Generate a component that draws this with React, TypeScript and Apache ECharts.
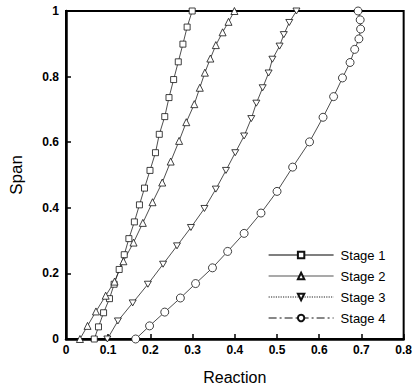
import React, { useEffect, useRef } from "react";
import * as echarts from "echarts";

const seriesNames = ["Stage 1", "Stage 2", "Stage 3", "Stage 4"];

const stage1X = [0.067, 0.077, 0.089, 0.103, 0.114, 0.126, 0.138, 0.149, 0.162, 0.174, 0.186, 0.199, 0.212, 0.221, 0.234, 0.244, 0.255, 0.266, 0.277, 0.287, 0.299];
const stage1Y = [0, 0.037, 0.08, 0.123, 0.167, 0.212, 0.257, 0.306, 0.357, 0.409, 0.46, 0.514, 0.568, 0.624, 0.678, 0.736, 0.791, 0.845, 0.899, 0.951, 1.0];

const stage2X = [0.033, 0.051, 0.071, 0.094, 0.115, 0.136, 0.16, 0.182, 0.205, 0.228, 0.248, 0.268, 0.285, 0.304, 0.317, 0.329, 0.342, 0.355, 0.371, 0.385, 0.399];
const stage2Y = [0, 0.04, 0.084, 0.132, 0.175, 0.237, 0.294, 0.354, 0.417, 0.477, 0.541, 0.604, 0.661, 0.716, 0.766, 0.812, 0.855, 0.896, 0.935, 0.967, 1.0];

const stage3X = [0.098, 0.123, 0.158, 0.194, 0.23, 0.263, 0.296, 0.328, 0.355, 0.379, 0.401, 0.422, 0.439, 0.451, 0.466, 0.48, 0.489, 0.506, 0.516, 0.529, 0.546];
const stage3Y = [0, 0.055, 0.11, 0.167, 0.228, 0.284, 0.34, 0.398, 0.457, 0.514, 0.568, 0.619, 0.672, 0.719, 0.766, 0.811, 0.853, 0.893, 0.928, 0.965, 1.0];

const stage4X = [0.165, 0.198, 0.234, 0.271, 0.307, 0.347, 0.383, 0.422, 0.462, 0.5, 0.537, 0.577, 0.609, 0.634, 0.655, 0.673, 0.684, 0.694, 0.698, 0.697, 0.692];
const stage4Y = [0, 0.04, 0.082, 0.125, 0.169, 0.217, 0.267, 0.322, 0.384, 0.45, 0.524, 0.601, 0.676, 0.739, 0.796, 0.843, 0.883, 0.915, 0.945, 0.973, 1.0];

const xTicks = [0, 0.1, 0.2, 0.3, 0.4, 0.5, 0.6, 0.7, 0.8];
const yTicks = [0, 0.2, 0.4, 0.6, 0.8, 1];

const FONT = "'Liberation Sans', Arial, sans-serif";

function zip(xs: number[], ys: number[]) {
  return xs.map((x, i) => [x, ys[i]]);
}

export default function App() {
  const ref = useRef<HTMLDivElement>(null);
  useEffect(() => {
    if (!ref.current) return;
    const chart = echarts.init(ref.current, null, { renderer: "svg" });
    const symbols = ["rect", "triangle", "path://M0,0 L10,0 L5,9 Z", "circle"];
    const sizes = [6, 7, 7, 8];
    const dataSets = [zip(stage1X, stage1Y), zip(stage2X, stage2Y), zip(stage3X, stage3Y), zip(stage4X, stage4Y)];
    const legendLine = [
      { color: "#000", type: "solid" },
      { color: "#555", type: "solid" },
      { color: "#222", type: "dotted" },
      { color: "#111", type: [8, 3, 2, 3] },
    ];
    chart.setOption({
      animation: false,
      backgroundColor: "#fff",
      grid: {
        left: 59,
        right: 9,
        top: 11,
        bottom: 45,
        show: true,
        borderColor: "#000",
        borderWidth: 2,
      },
      legend: {
        orient: "vertical",
        left: 263,
        top: 243,
        itemWidth: 65,
        itemHeight: 8,
        itemGap: 7,
        textStyle: {
          fontFamily: FONT,
          fontSize: 13,
          color: "#000",
          lineHeight: 14,
          padding: [0, 0, 0, 2],
        },
        data: seriesNames.map((n, i) => ({
          name: n,
          lineStyle: { color: legendLine[i].color, type: legendLine[i].type, width: 1.2 },
        })),
      },
      xAxis: {
        type: "value",
        min: 0,
        max: 0.8,
        interval: 0.1,
        name: "Reaction",
        nameLocation: "middle",
        nameGap: 30,
        nameTextStyle: { fontFamily: FONT, fontSize: 16, color: "#000" },
        axisLine: { show: true, lineStyle: { color: "#000", width: 2.5 } },
        axisTick: { show: true, inside: true, length: 5, lineStyle: { color: "#000", width: 1.5 } },
        axisLabel: {
          margin: 5,
          fontFamily: FONT,
          fontSize: 12,
          fontWeight: "bold",
          color: "#000",
          formatter: (v: number) => {
            const t = xTicks.find((k) => Math.abs(k - v) < 1e-6);
            return t === undefined ? "" : String(t);
          },
        },
        splitLine: { show: false },
      },
      yAxis: {
        type: "value",
        min: 0,
        max: 1,
        interval: 0.2,
        name: "Span",
        nameLocation: "middle",
        nameGap: 41,
        nameRotate: 90,
        nameTextStyle: { fontFamily: FONT, fontSize: 17, color: "#000" },
        axisLine: { show: true, lineStyle: { color: "#000", width: 2.5 } },
        axisTick: { show: true, inside: true, length: 5, lineStyle: { color: "#000", width: 1.5 } },
        axisLabel: {
          margin: 7,
          fontFamily: FONT,
          fontSize: 12,
          fontWeight: "bold",
          color: "#000",
          formatter: (v: number) => {
            const t = yTicks.find((k) => Math.abs(k - v) < 1e-6);
            return t === undefined ? "" : String(t);
          },
        },
        splitLine: { show: false },
      },
      series: seriesNames.map((n, i) => ({
        name: n,
        type: "line",
        data: dataSets[i],
        symbol: symbols[i],
        symbolSize: i === 2 ? [7, 6] : sizes[i],
        showAllSymbol: true,
        clip: false,
        lineStyle: { color: "#222", width: 0.8 },
        itemStyle: { color: "#fff", borderColor: "#111", borderWidth: 0.8 },
        emphasis: { disabled: true },
      })),
    });
    return () => chart.dispose();
  }, []);
  return (
    <div
      ref={ref}
      style={{ position: "fixed", left: 0, top: 0, width: 415, height: 390, background: "#fff" }}
    />
  );
}
